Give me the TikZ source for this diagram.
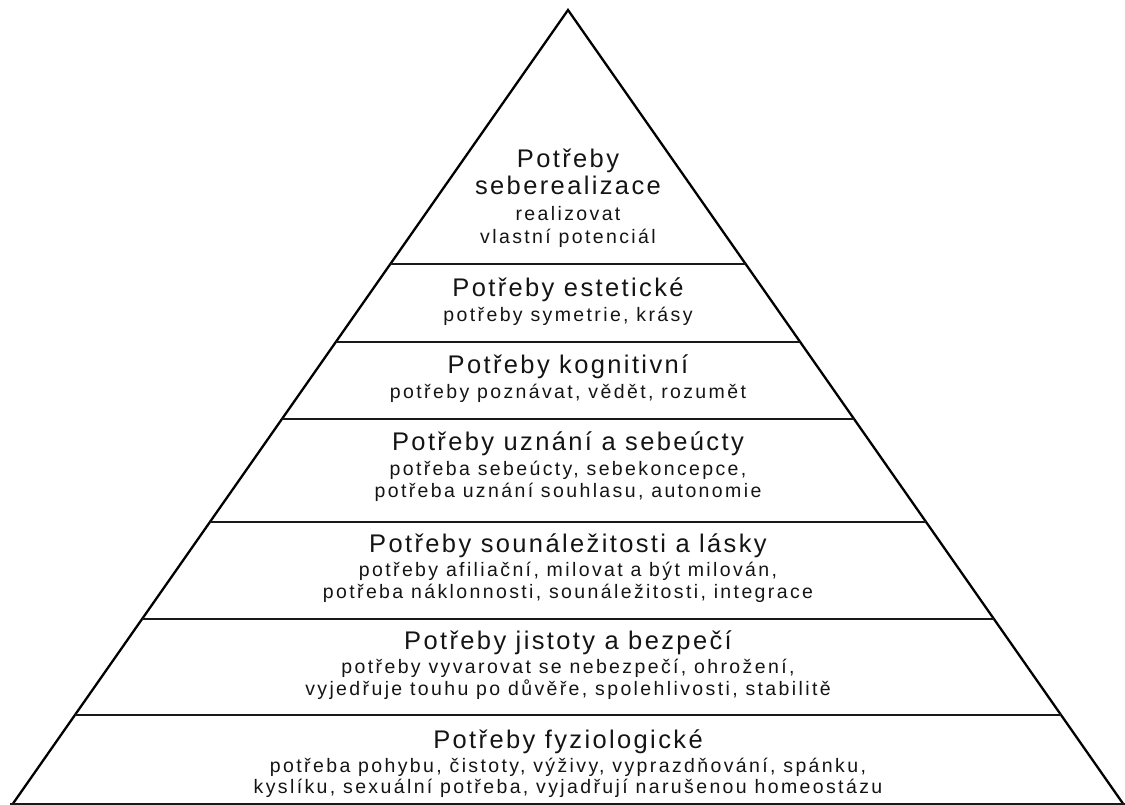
\documentclass[tikz,border=0pt]{standalone}
\usepackage{fontspec}
\usetikzlibrary{calc}
\newfontfamily\titlefont[LetterSpace=9.3]{Liberation Sans}
\newfontfamily\subfont[LetterSpace=12.2]{Liberation Sans}
\begin{document}
\begin{tikzpicture}[x=1pt,y=-1pt,
  edge/.style={line width=2.3pt,black},
  level/.style={line width=2.5pt,black!90},
  ttl/.style={anchor=base,inner sep=0pt,font=\titlefont\fontsize{25.5}{30}\selectfont,text=black!92},
  sub/.style={anchor=base,inner sep=0pt,font=\subfont\fontsize{19.5}{23}\selectfont,text=black!92}]
\useasboundingbox (0,0) rectangle (1125,805);
\coordinate (A) at (568,10);
\coordinate (BL) at (12,805);
\coordinate (BR) at (1124,805);
\draw[edge,line join=miter] (BL) -- (A) -- (BR);
\draw[level] ($(BL)+(-2,-1)$) -- ($(BR)+(2,-1)$);
\foreach \yy/\nm in {264/l1,342/l2,419/l3,522/l4,619/l5,715/l6}{
  \pgfmathsetmacro{\t}{(\yy-10)/795}
  \coordinate (\nm L) at ($(A)!\t!(BL)$);
  \coordinate (\nm R) at ($(A)!\t!(BR)$);
  \draw[level] (\nm L) -- (\nm R);
}
% level 1
\node[ttl] (t1a) at (568,168) {Potřeby};
\node[ttl] (t1b) at (568,195) {seberealizace};
\node[sub] (s1a) at (568,221) {realizovat};
\node[sub] (s1b) at (568,244) {vlastní potenciál};
% level 2
\node[ttl] (t2) at (568,296) {Potřeby estetické};
\node[sub] (s2a) at (568,321) {potřeby symetrie, krásy};
% level 3
\node[ttl] (t3) at (568,373) {Potřeby kognitivní};
\node[sub] (s3a) at (568,398) {potřeby poznávat, vědět, rozumět};
% level 4
\node[ttl] (t4) at (568,450) {Potřeby uznání a sebeúcty};
\node[sub] (s4a) at (568,475) {potřeba sebeúcty, sebekoncepce,};
\node[sub] (s4b) at (568,497) {potřeba uznání souhlasu, autonomie};
% level 5
\node[ttl] (t5) at (568,552) {Potřeby sounáležitosti a lásky};
\node[sub] (s5a) at (568,576) {potřeby afiliační, milovat a být milován,};
\node[sub] (s5b) at (568,598) {potřeba náklonnosti, sounáležitosti, integrace};
% level 6
\node[ttl] (t6) at (568,649) {Potřeby jistoty a bezpečí};
\node[sub] (s6a) at (568,673) {potřeby vyvarovat se nebezpečí, ohrožení,};
\node[sub] (s6b) at (568,695) {vyjedřuje touhu po důvěře, spolehlivosti, stabilitě};
% level 7
\node[ttl] (t7) at (568,748) {Potřeby fyziologické};
\node[sub] (s7a) at (568,772) {potřeba pohybu, čistoty, výživy, vyprazdňování, spánku,};
\node[sub] (s7b) at (568,793) {kyslíku, sexuální potřeba, vyjadřují narušenou homeostázu};
\end{tikzpicture}
\end{document}
